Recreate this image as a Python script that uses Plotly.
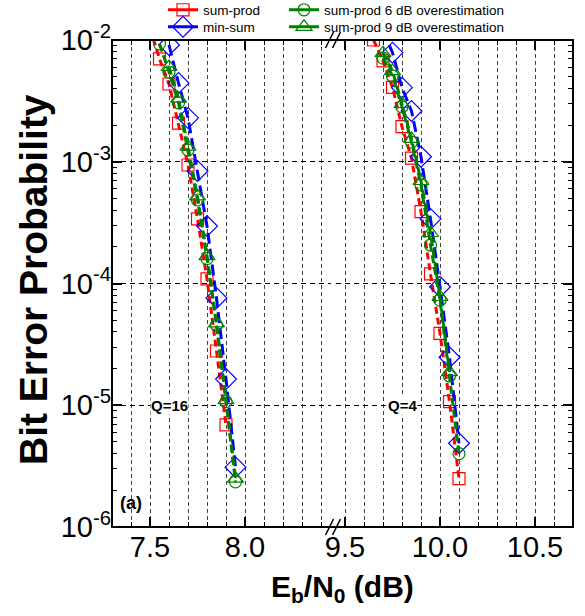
import plotly.graph_objects as go

# ---------------- data ----------------
# Q = 16 (left x-axis segment)
sp16_x = [7.50, 7.55, 7.60, 7.65, 7.70, 7.75, 7.80, 7.85, 7.90]
sp16_y = [1.25e-2, 7.0e-3, 4.35e-3, 2.08e-3, 9.4e-4, 3.39e-4, 1.09e-4, 2.79e-5, 6.9e-6]
ms16_x = [7.60, 7.65, 7.70, 7.75, 7.80, 7.85, 7.90, 7.95]
ms16_y = [9.1e-3, 4.43e-3, 2.29e-3, 8.4e-4, 2.96e-4, 7.6e-5, 1.64e-5, 3.1e-6]
o6_16_x = [7.55, 7.60, 7.65, 7.70, 7.75, 7.80, 7.85, 7.90, 7.95]
o6_16_y = [9.3e-3, 5.46e-3, 3.05e-3, 1.25e-3, 4.85e-4, 1.6e-4, 4.56e-5, 1.07e-5, 2.35e-6]
o9_16_x = [7.60, 7.65, 7.70, 7.75, 7.80, 7.85, 7.90, 7.95]
o9_16_y = [6.0e-3, 3.3e-3, 1.33e-3, 5.2e-4, 1.68e-4, 4.7e-5, 1.1e-5, 2.5e-6]

# Q = 4 (right x-axis segment)
sp4_x = [9.65, 9.70, 9.75, 9.80, 9.85, 9.90, 9.95, 10.00, 10.05, 10.10]
sp4_y = [1.0e-2, 6.73e-3, 4.08e-3, 1.94e-3, 1.07e-3, 3.89e-4, 1.2e-4, 3.9e-5, 1.07e-5, 2.5e-6]
ms4_x = [9.70, 9.75, 9.80, 9.85, 9.90, 9.95, 10.00, 10.05, 10.10]
ms4_y = [1.2e-2, 7.87e-3, 4.06e-3, 2.61e-3, 1.10e-3, 3.39e-4, 9.4e-5, 2.48e-5, 4.87e-6]
o6_4_x = [9.70, 9.75, 9.80, 9.85, 9.90, 9.95, 10.00, 10.05, 10.10]
o6_4_y = [7.1e-3, 5.06e-3, 2.82e-3, 1.45e-3, 6.45e-4, 2.07e-4, 7.3e-5, 1.74e-5, 4.0e-6]
o9_4_x = [9.70, 9.75, 9.80, 9.85, 9.90, 9.95, 10.00, 10.05]
o9_4_y = [7.8e-3, 5.56e-3, 2.98e-3, 1.54e-3, 6.95e-4, 2.6e-4, 7.75e-5, 1.87e-5]

# axis ranges / ticks
x_left_range = [7.3, 8.45]
x_right_range = [9.45, 10.7]
x_left_ticks = [7.5, 8.0]
x_right_ticks = [9.5, 10.0, 10.5]
y_decades = [-6, -5, -4, -3, -2]

FONT = "Liberation Sans, Arial, sans-serif"
RED, BLUE, GREEN = "#FF0000", "#0000FF", "#008000"

# name, colour, symbol, size, dash, legend id, legend column, legend row, data...
series = [
    ("sum-prod", RED, "square-open", 12, "7px,4px", "legend", 0, 0, sp16_x, sp16_y, sp4_x, sp4_y),
    ("min-sum", BLUE, "diamond-open", 16, "11px,5px", "legend2", 0, 1, ms16_x, ms16_y, ms4_x, ms4_y),
    ("sum-prod 6 dB overestimation", GREEN, "circle-open", 12, "8px,4px", "legend3", 1, 0, o6_16_x, o6_16_y, o6_4_x, o6_4_y),
    ("sum-prod 9 dB overestimation", GREEN, "triangle-up-open", 14, "8px,4px", "legend4", 1, 1, o9_16_x, o9_16_y, o9_4_x, o9_4_y),
]

fig = go.Figure()
for name, col, sym, size, dash, leg, c, r, xl, yl, xr, yr in series:
    marker = dict(symbol=sym, size=size, color=col, line=dict(color=col, width=1.2))
    line = dict(color=col, width=3, dash=dash)
    fig.add_trace(go.Scatter(x=xl, y=yl, mode="lines+markers", name=name, legendgroup=name,
                             showlegend=False, marker=marker, line=line, xaxis="x", yaxis="y"))
    fig.add_trace(go.Scatter(x=xr, y=yr, mode="lines+markers", name=name, legendgroup=name,
                             showlegend=False, marker=marker, line=line, xaxis="x2", yaxis="y2"))
    # legend-only entry (solid line sample, as in the reference legend)
    fig.add_trace(go.Scatter(x=[None], y=[None], mode="lines+markers", name=name,
                             legendgroup=name, legend=leg, showlegend=True,
                             marker=marker, line=dict(color=col, width=3), xaxis="x", yaxis="y"))

W, H = 585, 616
ML, MR, MT, MB = 112, 12, 40, 89
pw = W - ML - MR
ph = H - MT - MB
ppu = 190.0  # pixels per dB
left_end = (x_left_range[1] - x_left_range[0]) * ppu / pw
right_start = 1 - (x_right_range[1] - x_right_range[0]) * ppu / pw

vgrid = dict(showgrid=True, gridcolor="#444444", griddash="4px,3px", gridwidth=1)
xcommon = dict(ticks="inside", ticklen=10, tickwidth=1.5, tickcolor="black", mirror="ticks",
               showline=False, zeroline=False, tickmode="array",
               tickfont=dict(family=FONT, size=29, color="black"),
               **vgrid)
minor_x = dict(dtick=0.1, ticks="inside", ticklen=5, tickwidth=1.2, tickcolor="black", **vgrid)

y_tickvals = [10.0 ** d for d in y_decades]
y_ticktext = ["10<sup>%d</sup>" % d for d in y_decades]
y_minor = [m * 10.0 ** d for d in y_decades[:-1] for m in range(2, 10)]
ycommon = dict(type="log", range=[-6, -2], ticks="inside", ticklen=10, tickwidth=1.5,
               tickcolor="black", showline=False, zeroline=False,
               tickmode="array", tickvals=y_tickvals,
               showgrid=True, gridcolor="black", griddash="5px,4px", gridwidth=1,
               minor=dict(tickmode="array", tickvals=y_minor, ticks="inside", ticklen=5,
                          tickwidth=1.2, tickcolor="black", showgrid=False))

legfont = dict(family=FONT, size=13.5, color="black")
legend_cols_px = [163, 284]
legend_rows_px = [10, 27]
legends = {}
for name, col, sym, size, dash, leg, c, r, *_ in series:
    legends[leg] = dict(x=(legend_cols_px[c] - ML) / pw, xanchor="left",
                        y=1 + (MT - legend_rows_px[r]) / ph, yanchor="middle",
                        bgcolor="rgba(0,0,0,0)", font=legfont, itemwidth=30)

fig.update_layout(
    width=W, height=H, margin=dict(l=ML, r=MR, t=MT, b=MB, autoexpand=False),
    plot_bgcolor="white", paper_bgcolor="white",
    font=dict(family=FONT, color="black"),
    xaxis=dict(domain=[0, left_end], range=x_left_range, anchor="y",
               tickvals=x_left_ticks, ticktext=["%.1f" % v for v in x_left_ticks],
               minor=dict(tick0=7.3, **minor_x), **xcommon),
    xaxis2=dict(domain=[right_start, 1], range=x_right_range, anchor="y2",
                tickvals=x_right_ticks, ticktext=["%.1f" % v for v in x_right_ticks],
                minor=dict(tick0=9.5, **minor_x), **xcommon),
    yaxis=dict(anchor="x", side="left", ticktext=y_ticktext,
               tickfont=dict(family=FONT, size=29, color="black"), **ycommon),
    yaxis2=dict(anchor="x2", side="right", matches="y", showticklabels=False, **ycommon),
    showlegend=True,
    **legends,
)

# frame
fig.add_shape(type="rect", xref="paper", yref="paper", x0=0, x1=1, y0=0, y1=1,
              line=dict(color="black", width=2), layer="above")
# axis-break marks
bx = (left_end + right_start) / 2
for yb in (0, 1):
    for off in (-3.5, 3.5):
        fig.add_shape(type="line", xref="paper", yref="paper",
                      x0=bx + (off - 4) / pw, x1=bx + (off + 4) / pw,
                      y0=yb - 8 / ph, y1=yb + 8 / ph,
                      line=dict(color="black", width=1.5), layer="above")

# texts
fig.add_annotation(text="<b>E<sub>b</sub>/N<sub>0</sub> (dB)</b>", xref="paper", yref="paper",
                   x=0.5, y=-(588 - MT - ph) / ph, yanchor="middle", showarrow=False,
                   font=dict(family=FONT, size=30, color="black"))
fig.add_annotation(text="<b>Bit Error Probability</b>", xref="paper", yref="paper",
                   x=-(ML - 33) / pw, y=1 - (280 - MT) / ph, textangle=-90,
                   xanchor="center", yanchor="middle", showarrow=False,
                   font=dict(family=FONT, size=39, color="black"))
fig.add_annotation(text="<b>Q=16</b>", xref="x", yref="y", x=7.6, y=-5, showarrow=False,
                   bgcolor="white", borderpad=0, font=dict(family=FONT, size=15, color="black"))
fig.add_annotation(text="<b>Q=4</b>", xref="x2", yref="y2", x=9.8, y=-5, showarrow=False,
                   bgcolor="white", borderpad=0, font=dict(family=FONT, size=15, color="black"))
fig.add_annotation(text="<b>(a)</b>", xref="x", yref="y", x=7.3, y=-5.8, xanchor="left",
                   xshift=6, showarrow=False, font=dict(family=FONT, size=18, color="black"))

fig.write_html("out.html")
